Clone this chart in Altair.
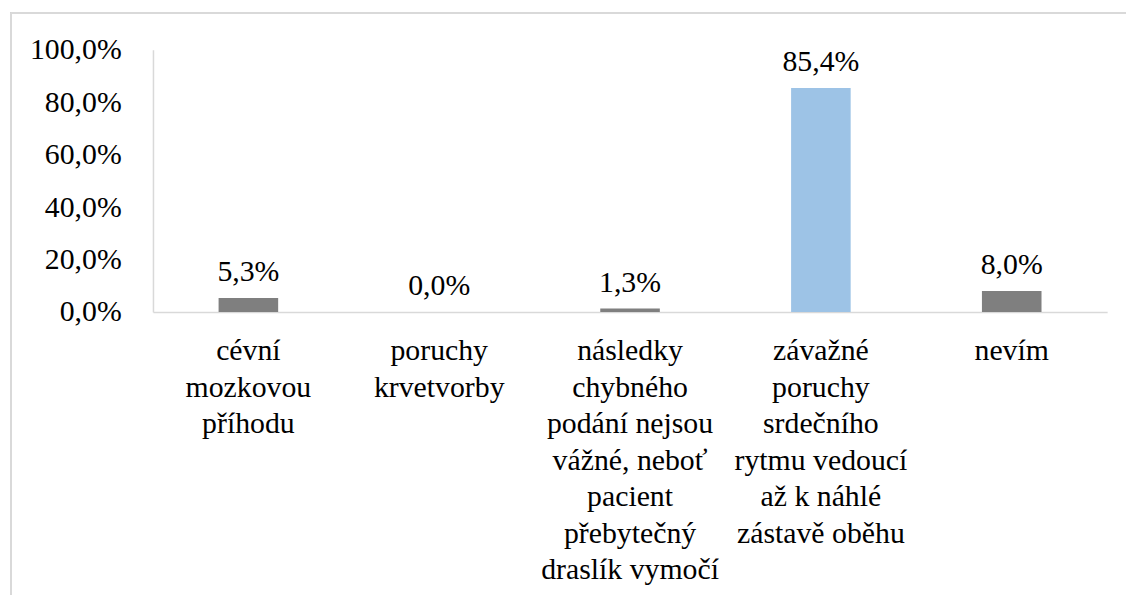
import altair as alt
import pandas as pd

categories = [
    "cévní\nmozkovou\npříhodu",
    "poruchy\nkrvetvorby",
    "následky\nchybného\npodání nejsou\nvážné, neboť\npacient\npřebytečný\ndraslík vymočí",
    "závažné\nporuchy\nsrdečního\nrytmu vedoucí\naž k náhlé\nzástavě oběhu",
    "nevím",
]
values = [5.3, 0.0, 1.3, 85.4, 8.0]
y_ticks = [0, 20, 40, 60, 80, 100]

bar_colors = ["#7f7f7f", "#7f7f7f", "#7f7f7f", "#9dc3e6", "#7f7f7f"]

df = pd.DataFrame({"cat": categories, "val": values})

FONT = "Liberation Serif"
FS = 30

# outer frame (chart border) in page pixels; right/bottom edges lie beyond the page
FR_L, FR_T = 11, 11
FR_R, FR_B = 1140, 600
VIEW_W, VIEW_H = FR_R - FR_L, FR_B - FR_T
# plot area in page pixels
PLOT_L, PLOT_T, PLOT_R, PLOT_B = 154, 48, 1115, 312
xr = [PLOT_L - FR_L, PLOT_R - FR_L]
yr = [PLOT_B - FR_T, PLOT_T - FR_T]

base = alt.Chart(df).encode(
    x=alt.X(
        "cat:N",
        sort=None,
        scale=alt.Scale(paddingInner=0, paddingOuter=0, range=xr),
        axis=alt.Axis(
            title=None,
            labelAngle=0,
            labelExpr="split(datum.label, '\\n')",
            labelFont=FONT,
            labelFontSize=FS,
            labelColor="#000000",
            labelLineHeight=36.8,
            labelBaseline="alphabetic",
            labelPadding=48,
            labelLimit=400,
            ticks=False,
            domainColor="#d9d9d9",
            domainWidth=1.5,
            offset=-(VIEW_H - yr[0]),
        ),
    ),
    y=alt.Y(
        "val:Q",
        scale=alt.Scale(domain=[0, 100], nice=False, range=yr),
        axis=alt.Axis(
            title=None,
            values=y_ticks,
            labelExpr="replace(format(datum.value, '.1f'), '.', ',') + '%'",
            labelFont=FONT,
            labelFontSize=FS,
            labelColor="#000000",
            labelPadding=32,
            ticks=False,
            grid=False,
            domainColor="#d9d9d9",
            domainWidth=1.5,
            offset=-xr[0],
        ),
    ),
)

bars = base.mark_bar(size=60).encode(
    color=alt.Color("cat:N", sort=None, scale=alt.Scale(domain=categories, range=bar_colors), legend=None)
)

labels = base.mark_text(
    font=FONT, fontSize=FS, color="#000000", baseline="alphabetic", dy=-17
).transform_calculate(
    lbl="replace(format(datum.val, '.1f'), '.', ',') + '%'"
).encode(text="lbl:N")

frame_top = alt.Chart(df).mark_rule(color="#d9d9d9", strokeWidth=2).encode(
    x=alt.value(0), x2=alt.value(VIEW_W), y=alt.value(0)
)
frame_left = alt.Chart(df).mark_rule(color="#d9d9d9", strokeWidth=2).encode(
    x=alt.value(0), y=alt.value(0), y2=alt.value(VIEW_H)
)

# svg exactly fills the 1134x595 window (8px page margin); frame's far edges fall outside
pad = {
    "left": FR_L - 8,
    "top": FR_T - 8,
    "right": (1134 - 8) - (FR_L - 8) - VIEW_W,
    "bottom": (595 - 8) - (FR_T - 8) - VIEW_H,
}

chart = alt.layer(frame_top, frame_left, bars, labels).properties(
    width=VIEW_W,
    height=VIEW_H,
    autosize=alt.AutoSizeParams(type="none"),
    padding=pad,
    background="#ffffff",
).configure_view(stroke="#d9d9d9", strokeWidth=2)

chart.save("out.html", embed_options={"renderer": "svg", "actions": False})
